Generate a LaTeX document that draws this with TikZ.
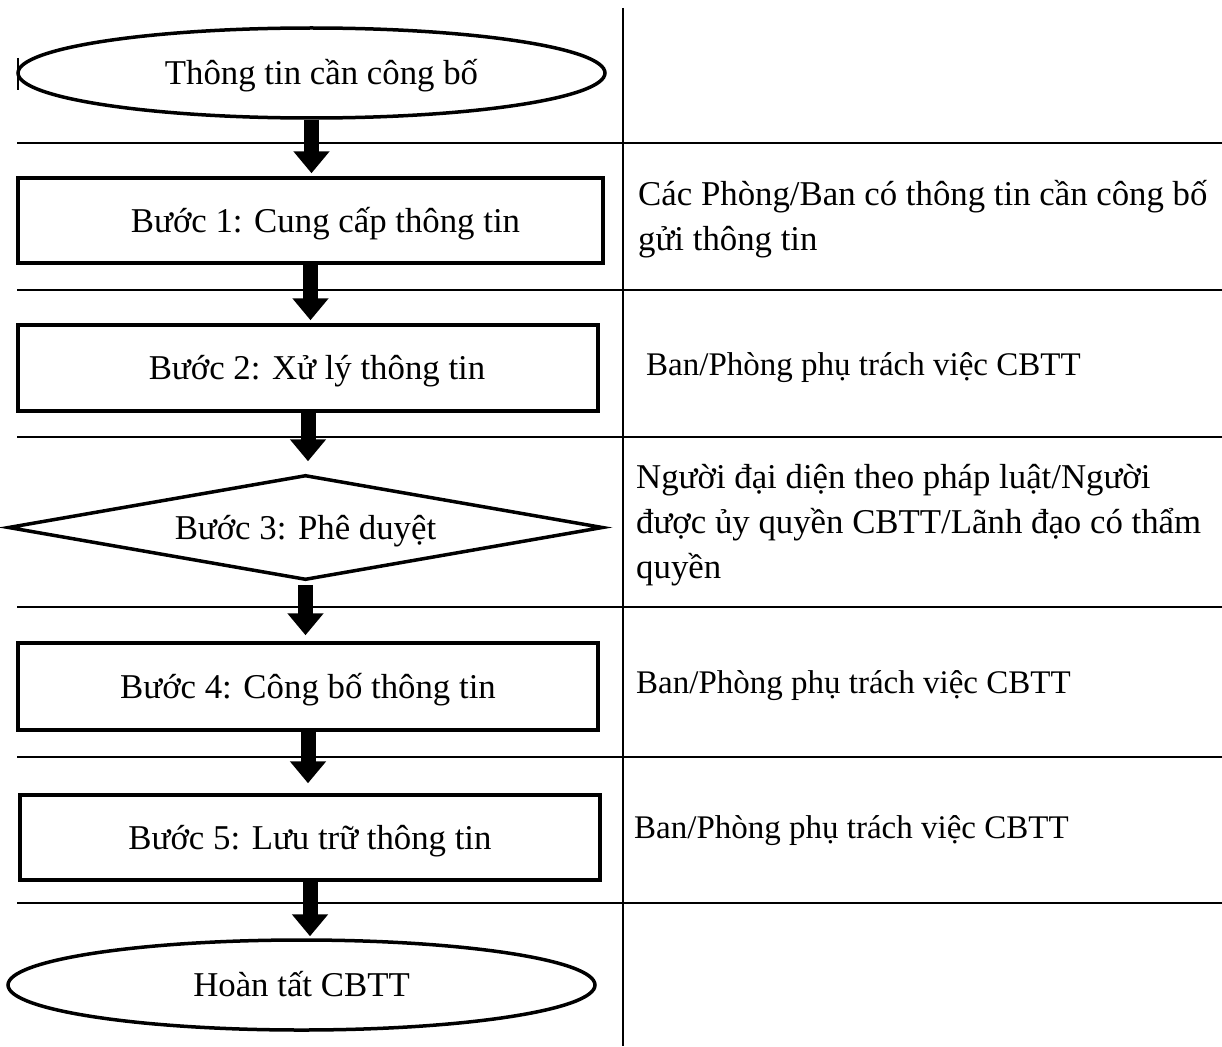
\documentclass[tikz,border=0pt]{standalone}
\usepackage{fontspec}
\setmainfont{Liberation Serif}
\usetikzlibrary{shapes.geometric,arrows.meta}
\begin{document}
\begin{tikzpicture}[x=1pt,y=-1pt,
  every node/.style={font=\fontsize{34.8}{45}\selectfont},
  shp/.style={draw,line width=3.5pt,inner sep=0pt,text height=27pt,text depth=4pt},
  stepbox/.style={shp,rectangle,minimum height=85pt},
  term/.style={shp,ellipse,minimum width=587pt,minimum height=90pt},
  decide/.style={shp,diamond,shape aspect=5.6,minimum width=595pt,minimum height=105pt},
  flow/.style={line width=15pt,-{Triangle[length=22pt,width=35pt]}},
  grid/.style={line width=1.5pt},
  desc/.style={anchor=base west,align=left,inner sep=0pt},
  descsmall/.style={desc,font=\fontsize{33}{45}\selectfont}
]
\useasboundingbox[fill=white] (0,0) rectangle (1222,1046);

% table lines
\draw[grid] (623,8) -- (623,1046);
\foreach \yy in {143,290,437,607,757,903}
  \draw[grid] (17,\yy) -- (1222,\yy);

% flow shapes
\node[term] (e1) at (311.5,73) {\hspace*{20pt}Thông tin cần công bố};
\draw[line width=2.5pt] (18,58) -- (18,90);
\node[stepbox,minimum width=585pt] (b1) at (310.5,220.5) {\hspace*{30pt}Bước 1: Cung cấp thông tin};
\node[stepbox,minimum width=580pt,minimum height=86pt] (b2) at (308,368) {\hspace*{18pt}Bước 2: Xử lý thông tin};
\node[decide] (d3) at (305.5,527.5) {Bước 3: Phê duyệt};
\node[stepbox,minimum width=580pt,minimum height=87pt] (b4) at (308,686.5) {Bước 4: Công bố thông tin};
\node[stepbox,minimum width=580pt] (b5) at (310,837.5) {Bước 5: Lưu trữ thông tin};
\node[term] (e2) at (301.5,985) {Hoàn tất CBTT};

% connectors
\draw[flow,shorten >=3pt] (e1.south) -- (e1.south |- b1.north);
\draw[flow,shorten >=3pt] (b1.south) -- (b1.south |- b2.north);
\draw[flow,shorten >=12pt] (b2.south) -- (b2.south |- d3.north);
\draw[flow,shorten <=3pt,shorten >=6pt] (d3.south) -- (d3.south |- b4.north);
\draw[flow,shorten >=10pt] (b4.south) -- (b4.south |- b5.north);
\draw[flow,shorten >=2pt] (b5.south) -- (b5.south |- e2.north);

% responsibility column
\node[desc] (r1) at (638,250) {Các Phòng/Ban có thông tin cần công bố\\gửi thông tin};
\node[descsmall] (r2) at (646,375) {Ban/Phòng phụ trách việc CBTT};
\node[desc] (r3) at (636,578) {Người đại diện theo pháp luật/Người\\được ủy quyền CBTT/Lãnh đạo có thẩm\\quyền};
\node[descsmall] (r4) at (636,693) {Ban/Phòng phụ trách việc CBTT};
\node[descsmall] (r5) at (634,838) {Ban/Phòng phụ trách việc CBTT};
\end{tikzpicture}
\end{document}
